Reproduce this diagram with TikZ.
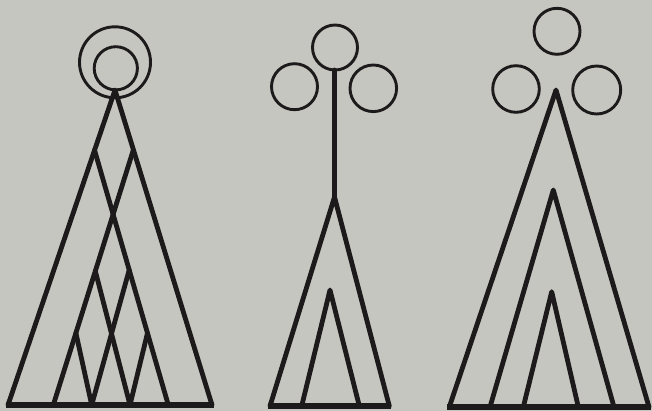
\documentclass[tikz,border=0pt]{standalone}
\usetikzlibrary{calc}
\definecolor{paper}{RGB}{198,198,193}
\definecolor{ink}{RGB}{28,26,26}
\begin{document}
\begin{tikzpicture}[x=1pt,y=-1pt,
  stroke/.style={draw=ink,line width=4.8pt,line join=round,line cap=round},
  ring/.style={draw=ink,line width=2.9pt},
  baseln/.style={draw=ink,line width=5.4pt,line cap=butt}]
\fill[paper] (0,0) rectangle (652,411);
\useasboundingbox (0,0) rectangle (652,411);
% ---------- figure 1 ----------
\coordinate (a1) at (115,90);
\coordinate (bl1) at (8,405);
\coordinate (br1) at (212,405);
\coordinate (p1) at (94.5,150);
\coordinate (p2) at (133,151);
\coordinate (p3) at (95.3,271);
\coordinate (p4) at (129.2,270);
\coordinate (p5) at (75.9,333);
\coordinate (p6) at (147.5,333);
\coordinate (q1) at (53.3,405);
\coordinate (q2) at (91.7,405);
\coordinate (q3) at (130,405);
\coordinate (q4) at (168.3,405);
\draw[ring] (115,62.3) circle[radius=35.5];
\draw[ring] (115.8,68.3) circle[radius=21.6];
\draw[stroke] (bl1) -- (a1) -- (br1);
\draw[stroke] (p1) -- (q4);
\draw[stroke] (p2) -- (q1);
\draw[stroke] (p3) -- (q3);
\draw[stroke] (p4) -- (q2);
\draw[stroke] (p5) -- (q2);
\draw[stroke] (p6) -- (q3);
\draw[baseln] ($(bl1)+(-2,0)$) -- ($(br1)+(2,0)$);
% ---------- figure 2 ----------
\draw[ring] (335,47.5) circle[radius=22.5];
\draw[ring] (294.5,86.7) circle[radius=23];
\draw[ring] (373.3,88.3) circle[radius=23.3];
\coordinate (s2) at (334.5,70);
\coordinate (a2) at (334.5,197);
\coordinate (bl2) at (270,406);
\coordinate (br2) at (389.3,406);
\coordinate (i2) at (330,290);
\coordinate (il2) at (301.7,406);
\coordinate (ir2) at (359.3,406);
\draw[stroke] (s2) -- (a2);
\draw[stroke] (bl2) -- (a2) -- (br2);
\draw[stroke] (il2) -- (i2) -- (ir2);
\draw[baseln] ($(bl2)+(-2,0)$) -- ($(br2)+(2,0)$);
% ---------- figure 3 ----------
\draw[ring] (557,31.3) circle[radius=23];
\draw[ring] (516,89) circle[radius=23.3];
\draw[ring] (596.7,90) circle[radius=24];
\coordinate (a3) at (556,90);
\coordinate (bl3) at (449.3,407);
\coordinate (br3) at (649,407);
\coordinate (m3) at (553.3,190);
\coordinate (ml3) at (490,407);
\coordinate (mr3) at (614,407);
\coordinate (i3) at (551.7,291.7);
\coordinate (il3) at (523.3,407);
\coordinate (ir3) at (578.3,407);
\draw[stroke] (bl3) -- (a3) -- (br3);
\draw[stroke] (ml3) -- (m3) -- (mr3);
\draw[stroke] (il3) -- (i3) -- (ir3);
\draw[baseln] ($(bl3)+(-2,0)$) -- ($(br3)+(2,0)$);
\end{tikzpicture}
\end{document}
